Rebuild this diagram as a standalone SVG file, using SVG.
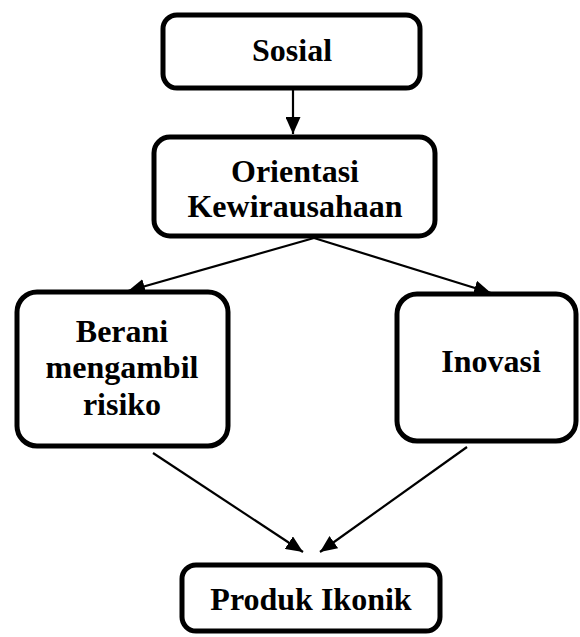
<svg xmlns="http://www.w3.org/2000/svg" width="580" height="637" viewBox="0 0 580 637">
<style>
.box{fill:#fff;stroke:#000;stroke-width:5}
.lbl{font-family:"Liberation Serif","Times New Roman",serif;font-weight:bold;font-size:32px;fill:#000;text-anchor:middle}
.edge{stroke:#000;stroke-width:2.2;fill:none;marker-end:url(#ah)}
</style>
<defs>
<marker id="ah" markerUnits="userSpaceOnUse" markerWidth="17" markerHeight="15" refX="17" refY="7.5" orient="auto">
<path d="M0,0 L17,7.5 L0,15 Z" fill="#000"/>
</marker>
</defs>
<rect width="580" height="637" fill="#fff"/>
<g id="connectors">
<line class="edge" x1="293" y1="90" x2="293" y2="134"/>
<line class="edge" x1="314" y1="238" x2="128" y2="291"/>
<line class="edge" x1="314" y1="238" x2="491" y2="293"/>
<line class="edge" x1="153" y1="453" x2="303" y2="552"/>
<line class="edge" x1="467" y1="447" x2="320" y2="552"/>
</g>
<g id="sosial">
<rect class="box" x="163" y="15" width="257" height="73" rx="14"/>
<text class="lbl" x="292" y="61">Sosial</text>
</g>
<g id="orientasi">
<rect class="box" x="154" y="137" width="281" height="99" rx="16"/>
<text class="lbl" x="295" y="182">Orientasi</text>
<text class="lbl" x="295" y="217">Kewirausahaan</text>
</g>
<g id="berani">
<rect class="box" x="17" y="292" width="211" height="154" rx="20"/>
<text class="lbl" x="122" y="342">Berani</text>
<text class="lbl" x="122" y="378">mengambil</text>
<text class="lbl" x="122" y="415">risiko</text>
</g>
<g id="inovasi">
<rect class="box" x="397" y="294" width="179" height="147" rx="20"/>
<text class="lbl" x="491" y="372">Inovasi</text>
</g>
<g id="produk">
<rect class="box" x="182" y="565" width="258" height="66" rx="14"/>
<text class="lbl" x="311" y="610">Produk Ikonik</text>
</g>
</svg>
